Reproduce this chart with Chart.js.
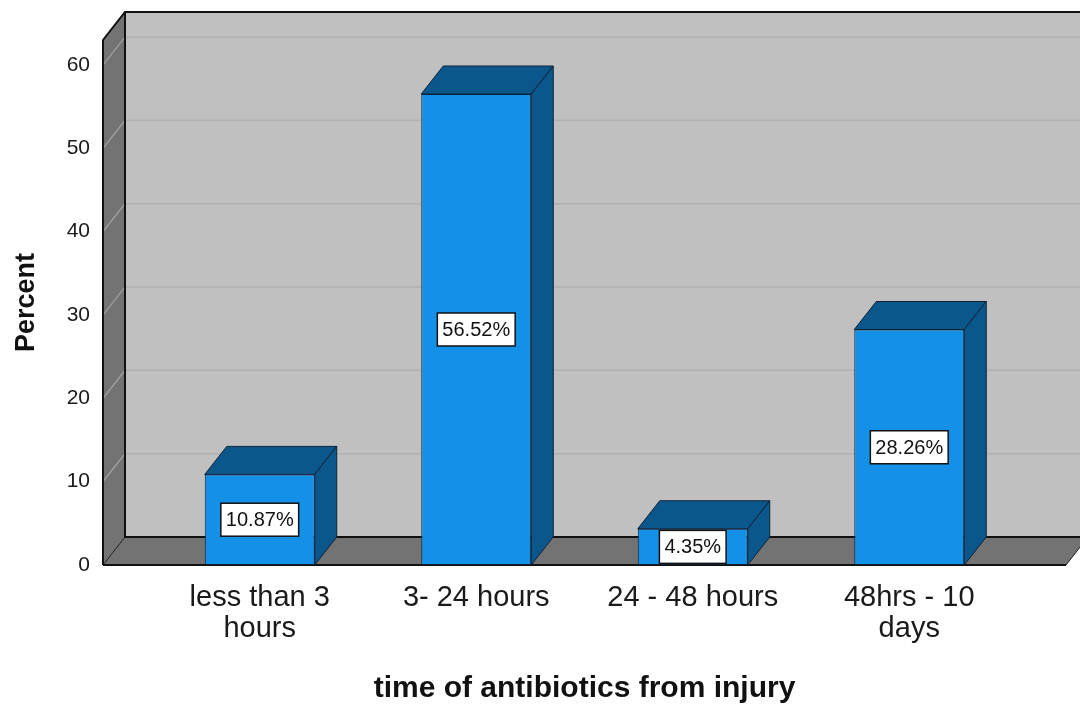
<!DOCTYPE html>
<html>
<head>
<meta charset="utf-8">
<script src="https://cdn.jsdelivr.net/npm/chart.js@4"></script>
<style>
  body { margin: 0; background: #fff; }
  #wrap { width: 1080px; height: 704px; }
</style>
</head>
<body>
<div id="wrap"><canvas id="myChart" width="1080" height="704"></canvas></div>
<script>
const categories = [["less than 3", "hours"], ["3- 24 hours"], ["24 - 48 hours"], ["48hrs - 10", "days"]];
const percents = [10.87, 56.52, 4.35, 28.26];
const yTicks = [0, 10, 20, 30, 40, 50, 60];

// 3d look
const DX = 22;
const DY = -28;
const xPad = 0.224;

const wallPlugin = {
  id: "walls",
  beforeDatasetsDraw(chart) {
    const { ctx, chartArea: a, scales } = chart;
    const y = scales.y;
    ctx.save();
    // back wall
    ctx.fillStyle = "#c0c0c0";
    ctx.fillRect(a.left + DX, a.top + DY, a.right - a.left + 40, a.bottom - a.top);
    ctx.strokeStyle = "#b0b0b0";
    ctx.lineWidth = 1.5;
    yTicks.forEach((v) => {
      if (v === 0) return;
      const py = y.getPixelForValue(v) + DY;
      ctx.beginPath();
      ctx.moveTo(a.left + DX, py);
      ctx.lineTo(a.right + DX + 40, py);
      ctx.stroke();
    });
    // left wall
    ctx.fillStyle = "#737373";
    ctx.beginPath();
    ctx.moveTo(a.left, a.top);
    ctx.lineTo(a.left + DX, a.top + DY);
    ctx.lineTo(a.left + DX, a.bottom + DY);
    ctx.lineTo(a.left, a.bottom);
    ctx.closePath();
    ctx.fill();
    ctx.strokeStyle = "#a6a6a6";
    ctx.lineWidth = 1.2;
    yTicks.forEach((v) => {
      if (v === 0) return;
      const py = y.getPixelForValue(v);
      ctx.beginPath();
      ctx.moveTo(a.left, py);
      ctx.lineTo(a.left + DX, py + DY);
      ctx.stroke();
    });
    // floor
    ctx.fillStyle = "#737373";
    ctx.beginPath();
    ctx.moveTo(a.left, a.bottom);
    ctx.lineTo(a.left + DX, a.bottom + DY);
    ctx.lineTo(a.right + DX, a.bottom + DY);
    ctx.lineTo(a.right, a.bottom);
    ctx.closePath();
    ctx.fill();
    ctx.strokeStyle = "#1a1a1a";
    ctx.lineWidth = 1;
    ctx.stroke();
    // edges
    ctx.lineWidth = 2;
    ctx.strokeStyle = "#111";
    ctx.beginPath();
    ctx.moveTo(a.left, a.bottom);
    ctx.lineTo(a.left, a.top);
    ctx.lineTo(a.left + DX, a.top + DY);
    ctx.lineTo(a.right + DX + 40, a.top + DY);
    ctx.moveTo(a.left + DX, a.top + DY);
    ctx.lineTo(a.left + DX, a.bottom + DY);
    ctx.lineTo(a.right + DX + 40, a.bottom + DY);
    ctx.moveTo(a.left, a.bottom);
    ctx.lineTo(a.right, a.bottom);
    ctx.stroke();
    ctx.restore();
  },
  afterDatasetsDraw(chart) {
    const { ctx } = chart;
    const meta = chart.getDatasetMeta(0);
    ctx.save();
    ctx.lineWidth = 1;
    ctx.strokeStyle = "#0d2236";
    ctx.fillStyle = "#0b578c";
    meta.data.forEach((bar) => {
      const l = bar.x - bar.width / 2;
      const r = bar.x + bar.width / 2;
      // top
      ctx.beginPath();
      ctx.moveTo(l, bar.y);
      ctx.lineTo(l + DX, bar.y + DY);
      ctx.lineTo(r + DX, bar.y + DY);
      ctx.lineTo(r, bar.y);
      ctx.closePath();
      ctx.fill();
      ctx.stroke();
      // side
      ctx.beginPath();
      ctx.moveTo(r, bar.y);
      ctx.lineTo(r + DX, bar.y + DY);
      ctx.lineTo(r + DX, bar.base + DY);
      ctx.lineTo(r, bar.base);
      ctx.closePath();
      ctx.fill();
      ctx.stroke();
    });
    // value labels
    ctx.font = "20px 'Liberation Sans', Arial, sans-serif";
    ctx.textAlign = "center";
    ctx.textBaseline = "middle";
    meta.data.forEach((bar, i) => {
      const text = percents[i].toFixed(2) + "%";
      const w = ctx.measureText(text).width + 10;
      const h = 33;
      const cy = (bar.y + bar.base) / 2;
      ctx.fillStyle = "#fff";
      ctx.fillRect(bar.x - w / 2, cy - h / 2, w, h);
      ctx.strokeStyle = "#111";
      ctx.lineWidth = 1.5;
      ctx.strokeRect(bar.x - w / 2, cy - h / 2, w, h);
      ctx.fillStyle = "#111";
      ctx.fillText(text, bar.x, cy + 1);
    });
    ctx.restore();
  },
};

const ctx = document.getElementById("myChart");
new Chart(ctx, {
  type: "bar",
  data: {
    datasets: [
      {
        data: percents.map((v, i) => ({ x: i, y: v })),
        backgroundColor: "#1490e6",
        borderColor: "#0d2236",
        borderWidth: 1,
        borderSkipped: false,
        categoryPercentage: 1,
        barPercentage: 0.508,
      },
    ],
  },
  options: {
    responsive: false,
    animation: false,
    layout: { padding: { top: 40, right: 14, left: 0, bottom: 0 } },
    plugins: {
      legend: { display: false },
      tooltip: { enabled: false },
    },
    scales: {
      x: {
        type: "linear",
        offset: false,
        min: -0.5 - xPad,
        max: categories.length - 0.5 + xPad,
        grid: { display: false },
        border: { display: false },
        afterBuildTicks: (scale) => {
          scale.ticks = categories.map((c, i) => ({ value: i }));
        },
        afterFit: (scale) => {
          scale.height = 139;
        },
        ticks: {
          autoSkip: false,
          maxRotation: 0,
          padding: 10,
          color: "#1a1a1a",
          font: { family: "'Liberation Sans', Arial, sans-serif", size: 29, lineHeight: 1.05 },
          callback: (value) => categories[value],
        },
        title: {
          display: true,
          text: "time of antibiotics from injury",
          color: "#111",
          padding: { top: 0, bottom: 0 },
          font: { family: "'Liberation Sans', Arial, sans-serif", size: 30, weight: "bold", lineHeight: 1 },
        },
      },
      y: {
        min: 0,
        max: 63,
        grid: { display: false, drawTicks: false },
        border: { display: false },
        afterBuildTicks: (scale) => {
          scale.ticks = yTicks.map((v) => ({ value: v }));
        },
        afterFit: (scale) => {
          scale.width = 103;
        },
        ticks: {
          padding: 13,
          color: "#1a1a1a",
          font: { family: "'Liberation Sans', Arial, sans-serif", size: 21 },
        },
        title: {
          display: true,
          text: "Percent",
          color: "#111",
          padding: { top: 10, bottom: 0 },
          font: { family: "'Liberation Sans', Arial, sans-serif", size: 27, weight: "bold" },
        },
      },
    },
  },
  plugins: [wallPlugin],
});
</script>
</body>
</html>
